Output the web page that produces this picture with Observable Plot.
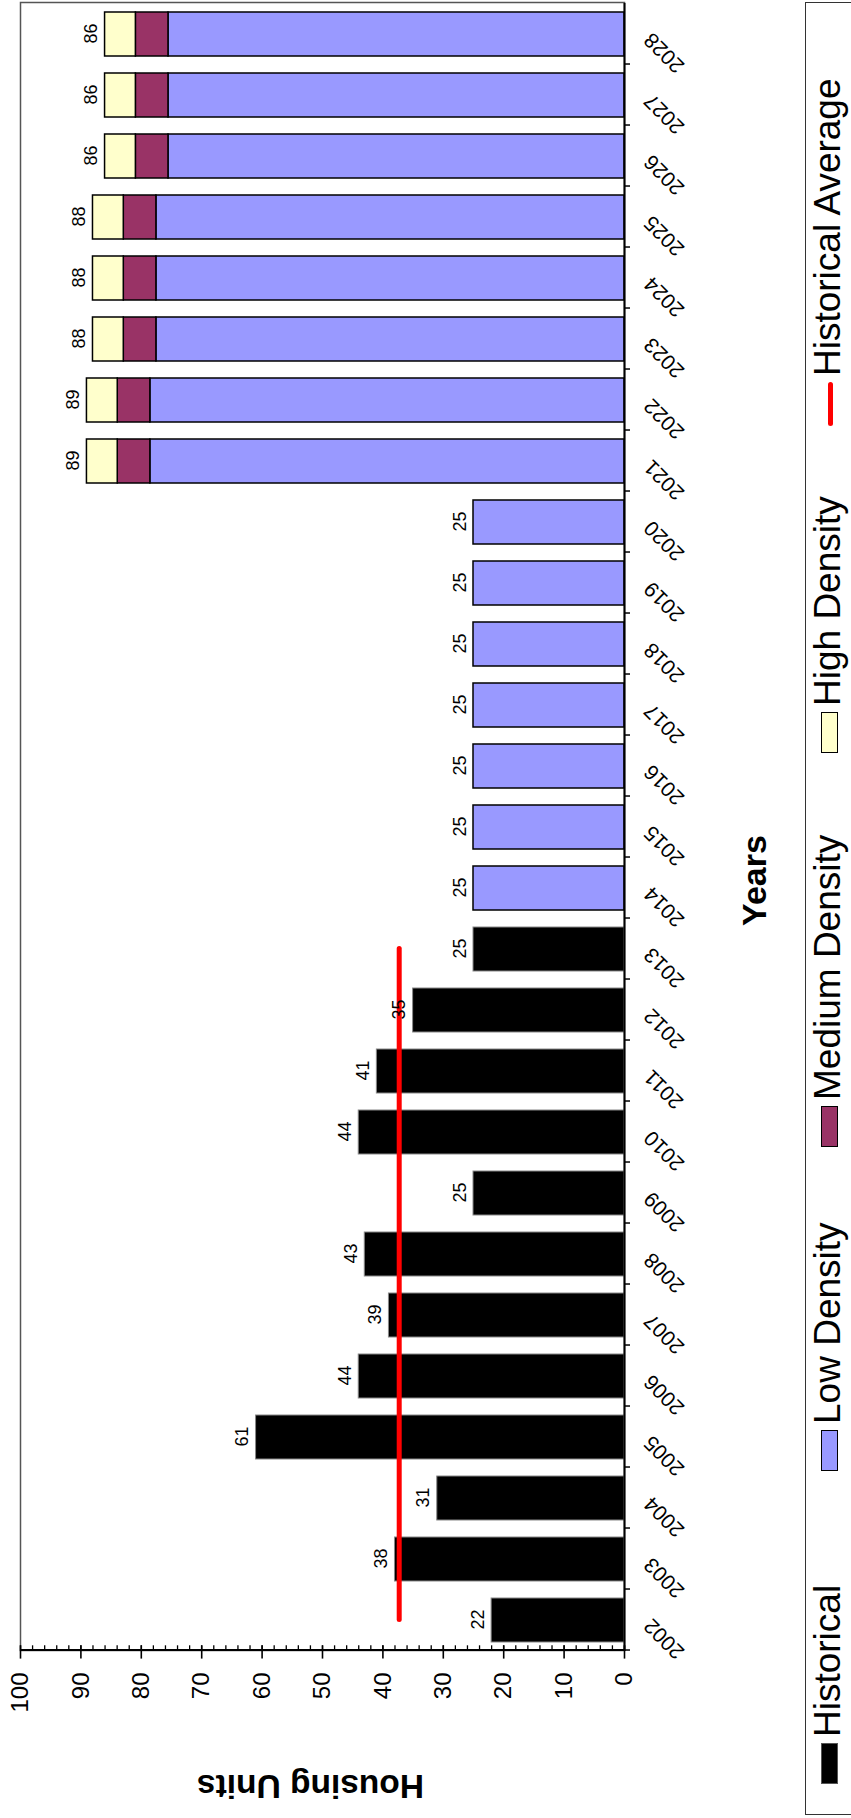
<!DOCTYPE html>
<html>
<head>
<meta charset="utf-8">
<script src="https://cdn.jsdelivr.net/npm/d3@7"></script>
<script src="https://cdn.jsdelivr.net/npm/@observablehq/plot@0.6"></script>
<style>
html, body { margin: 0; padding: 0; background: #fff; overflow: hidden; width: 851px; height: 1818px; }
#wrap {
  position: absolute; left: 0; top: 0; width: 1818px; height: 851px;
  transform-origin: 0 0; transform: translate(0, 1818px) rotate(-90deg);
  font-family: "Liberation Sans", Arial, sans-serif; background: #fff;
}
#chart svg { display: block; }
#legend {
  position: absolute; left: 3px; top: 805px; width: 1813px; height: 90px;
  border: 1.5px solid #333; box-sizing: border-box;
}
.sw { position: absolute; top: 15px; width: 41px; height: 17px; box-sizing: border-box; border: 1.5px solid #000; }
.ln { position: absolute; top: 22px; width: 44px; height: 5px; border-radius: 3px; }
.lab { position: absolute; top: 3px; font-size: 37px; line-height: 37px; color: #000; white-space: nowrap; }
</style>
</head>
<body>
<div id="wrap"><div id="chart"></div><div id="legend"></div></div>
<script>
// ---- data ----
const years = ["2002","2003","2004","2005","2006","2007","2008","2009","2010","2011","2012","2013","2014","2015","2016","2017","2018","2019","2020","2021","2022","2023","2024","2025","2026","2027","2028"];
const historicalYears = ["2002","2003","2004","2005","2006","2007","2008","2009","2010","2011","2012","2013"];
const historical = [22, 38, 31, 61, 44, 39, 43, 25, 44, 41, 35, 25];
const projectedYears = ["2014","2015","2016","2017","2018","2019","2020","2021","2022","2023","2024","2025","2026","2027","2028"];
const lowDensity    = [25, 25, 25, 25, 25, 25, 25, 78.5, 78.5, 77.5, 77.5, 77.5, 75.5, 75.5, 75.5];
const mediumDensity = [0, 0, 0, 0, 0, 0, 0, 5.4, 5.4, 5.4, 5.4, 5.4, 5.4, 5.4, 5.4];
const highDensity   = [0, 0, 0, 0, 0, 0, 0, 5.1, 5.1, 5.1, 5.1, 5.1, 5.1, 5.1, 5.1];
const projectedTotals = [25, 25, 25, 25, 25, 25, 25, 89, 89, 88, 88, 88, 86, 86, 86];
const historicalAverage = 37.3;
const averageSpan = ["2002", "2013"];
const valueTicks = [0, 10, 20, 30, 40, 50, 60, 70, 80, 90, 100];
const minorTicks = d3.range(0, 101, 2);
const seriesNames = ["Low Density", "Medium Density", "High Density"];
const seriesColors = ["#9999FF", "#993366", "#FFFFCC"];
const legendNames = ["Historical", "Low Density", "Medium Density", "High Density", "Historical Average"];
const legendKinds = ["box", "box", "box", "box", "line"];
const legendColors = ["#000000", "#9999FF", "#993366", "#FFFFCC", "#FF0000"];

// ---- tables ----
const histRows = historicalYears.map((y, i) => ({year: y, value: historical[i]}));
const projRows = [];
projectedYears.forEach((y, i) => {
  [lowDensity[i], mediumDensity[i], highDensity[i]].forEach((v, k) => {
    if (v > 0) projRows.push({year: y, series: seriesNames[k], value: v});
  });
});
const projTotals = projectedYears.map((y, i) => ({year: y, total: projectedTotals[i]}));
const avgRows = averageSpan.map(y => ({year: y, value: historicalAverage}));

// ---- layout ----
const W = 1818, H = 805;
const mL = 167, mR = 3, mT = 20, mB = 181;
const step = (W - mL - mR) / years.length;

const chart = Plot.plot({
  width: W, height: H,
  marginLeft: mL, marginRight: mR, marginTop: mT, marginBottom: mB,
  style: {fontFamily: "'Liberation Sans', Arial, sans-serif", background: "#fff", color: "#000"},
  x: {type: "band", domain: years, paddingInner: 0.28, paddingOuter: 0.14, align: 0.5},
  y: {domain: [0, 100], label: null},
  color: {domain: seriesNames, range: seriesColors},
  marks: [
    Plot.frame({stroke: "#555", strokeWidth: 1.5}),
    Plot.barY(histRows, {x: "year", y: "value", fill: "#000", stroke: "#888", strokeWidth: 1}),
    Plot.barY(projRows, Plot.stackY({x: "year", y: "value", fill: "series", stroke: "#000", strokeWidth: 1.5})),
    Plot.line(avgRows, {x: "year", y: "value", stroke: "#FF0000", strokeWidth: 5, strokeLinecap: "round"}),
    Plot.text(histRows, {x: "year", y: "value", text: d => String(d.value), textAnchor: "middle", lineAnchor: "bottom", dy: -8, fontSize: 18, fill: "#000"}),
    Plot.text(projTotals, {x: "year", y: "total", text: d => String(d.total), textAnchor: "middle", lineAnchor: "bottom", dy: -8, fontSize: 18, fill: "#000"}),
    // value axis ticks
    Plot.axisY(minorTicks, {tickSize: 5.7, dx: 5.7, text: null, label: null, strokeWidth: 1.3}),
    Plot.axisY(valueTicks, {tickSize: 13.3, dx: 5.7, text: null, label: null, strokeWidth: 1.6}),
    Plot.text(valueTicks, {y: d => d, frameAnchor: "left", dx: -22, textAnchor: "end", lineAnchor: "middle", fontSize: 24, fill: "#000"}),
    // category axis ticks (between bands)
    Plot.axisX(years, {tickSize: 6, dx: -step / 2, text: null, label: null, strokeWidth: 1.5}),
    Plot.text(years, {x: d => d, frameAnchor: "bottom", rotate: -45, textAnchor: "end", lineAnchor: "bottom", dy: 28, dx: 2, fontSize: 21, fill: "#000"}),
    // axis lines
    Plot.ruleY([0], {stroke: "#000", strokeWidth: 2}),
    Plot.ruleX([years[0]], {dx: -step / 2, stroke: "#000", strokeWidth: 2}),
    // titles
    Plot.text(["Housing Units"], {frameAnchor: "left", rotate: -90, dx: -124, dy: -12, textAnchor: "middle", lineAnchor: "bottom", fontSize: 33.5, fontWeight: "bold", fill: "#000"}),
    Plot.text(["Years"], {frameAnchor: "bottom", dx: -54, dy: 141, textAnchor: "middle", lineAnchor: "bottom", fontSize: 34, fontWeight: "bold", fill: "#000"})
  ]
});
document.getElementById("chart").appendChild(chart);

// ---- legend (HTML, below the SVG in the unrotated frame) ----
const legend = document.getElementById("legend");
const legendLefts = [30, 343, 667, 1061, 1388];
legendNames.forEach((name, i) => {
  const sw = document.createElement("div");
  sw.className = legendKinds[i] === "box" ? "sw" : "ln";
  sw.style.background = legendColors[i];
  if (i === 0) sw.style.borderColor = "#555";
  sw.style.left = legendLefts[i] + "px";
  const lab = document.createElement("div");
  lab.className = "lab";
  lab.textContent = name;
  lab.style.left = (legendLefts[i] + (legendKinds[i] === "box" ? 47 : 50)) + "px";
  legend.appendChild(sw);
  legend.appendChild(lab);
});
</script>
</body>
</html>
